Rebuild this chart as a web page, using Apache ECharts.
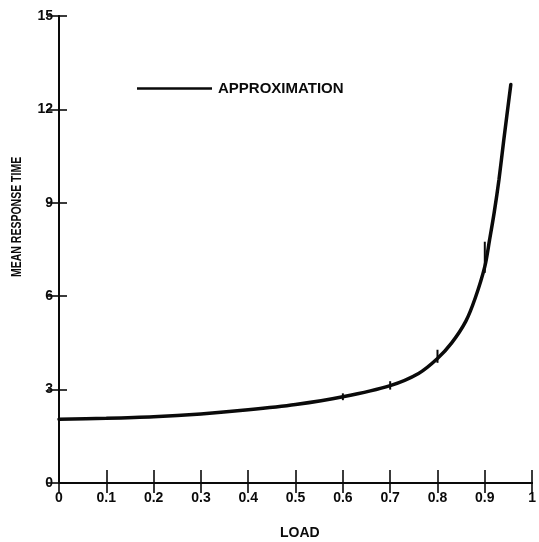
<!DOCTYPE html>
<html>
<head>
<meta charset="utf-8">
<script src="https://cdn.jsdelivr.net/npm/echarts@6/dist/echarts.min.js"></script>
<style>
  html, body { margin: 0; padding: 0; background: #fff; }
  #chart { width: 539px; height: 542px; }
</style>
</head>
<body>
<div id="chart"></div>
<script>
// Mean response time of the approximation as load grows
const loads = [0, 0.1, 0.2, 0.3, 0.4, 0.5, 0.6, 0.7, 0.76, 0.8, 0.83, 0.86, 0.88, 0.9, 0.91, 0.92, 0.93, 0.94, 0.955];
const times = [2.05, 2.08, 2.13, 2.22, 2.35, 2.52, 2.77, 3.13, 3.52, 4.0, 4.5, 5.2, 5.95, 6.95, 7.8, 8.7, 9.75, 11.0, 12.8];

// Short vertical interval marks along the curve
const barLoads = [0.6, 0.7, 0.8, 0.9];
const barLow = [2.66, 3.0, 3.86, 6.75];
const barHigh = [2.88, 3.27, 4.28, 7.75];

const xTicks = { min: 0, max: 1, interval: 0.1 };
const yTicks = { min: 0, max: 15, interval: 3 };

const seriesName = 'APPROXIMATION';
const xTitle = 'LOAD';
const yTitle = 'MEAN RESPONSE TIME';

const font = '"Liberation Sans", Arial, Helvetica, sans-serif';
const ink = '#0a0a0a';

const chart = echarts.init(document.getElementById('chart'), null, { renderer: 'canvas' });

const axisLine = { show: true, lineStyle: { color: ink, width: 2 } };

chart.setOption({
  animation: false,
  backgroundColor: '#fff',
  grid: { left: 59, right: 6, top: 16, bottom: 59 },
  legend: {
    left: 132, top: 76,
    data: [seriesName],
    itemWidth: 75, itemHeight: 14,
    icon: 'path://M0,6 L75,6 L75,8.5 L0,8.5 Z',
    textStyle: { color: ink, fontFamily: font, fontWeight: 'bold', fontSize: 15, padding: [0, 0, 0, 1] }
  },
  xAxis: [
    {
      type: 'value', position: 'bottom',
      min: xTicks.min, max: xTicks.max, interval: xTicks.interval,
      axisLine: axisLine,
      axisTick: { show: true, inside: true, length: 13, lineStyle: { color: ink, width: 1.6 } },
      axisLabel: { color: ink, fontFamily: font, fontWeight: 'bold', fontSize: 14, margin: 8 },
      splitLine: { show: false }
    },
    {
      type: 'value', position: 'top',
      min: xTicks.min, max: xTicks.max, interval: xTicks.interval,
      axisLine: axisLine,
      axisTick: { show: true, inside: true, length: 10, lineStyle: { color: ink, width: 1.6 } },
      axisLabel: { show: false },
      splitLine: { show: false }
    }
  ],
  yAxis: [
    {
      type: 'value', position: 'left',
      min: yTicks.min, max: yTicks.max, interval: yTicks.interval,
      axisLine: axisLine,
      axisTick: { show: true, inside: true, length: 8, lineStyle: { color: ink, width: 1.6 } },
      axisLabel: { color: ink, fontFamily: font, fontWeight: 'bold', fontSize: 14, margin: 6 },
      splitLine: { show: false }
    },
    {
      type: 'value', position: 'right',
      min: yTicks.min, max: yTicks.max, interval: yTicks.interval,
      axisLine: axisLine,
      axisTick: { show: true, inside: true, length: 12, lineStyle: { color: ink, width: 1.6 } },
      axisLabel: { show: false },
      splitLine: { show: false }
    }
  ],
  graphic: [
    {
      type: 'text', left: 280, top: 526,
      style: { text: xTitle, fill: ink, font: 'bold 14px ' + font }
    },
    {
      // condensed vertical axis title
      type: 'text', x: 9, y: 277, rotation: Math.PI / 2, scaleX: 0.7,
      style: { text: yTitle, fill: ink, font: 'bold 15px ' + font }
    }
  ],
  series: [
    {
      name: seriesName,
      type: 'line',
      xAxisIndex: 0, yAxisIndex: 0,
      data: loads.map((x, i) => [x, times[i]]),
      smooth: 0.3,
      showSymbol: false,
      lineStyle: { color: ink, width: 3.5, cap: 'round' },
      itemStyle: { color: ink }
    },
    {
      name: 'interval',
      type: 'custom',
      xAxisIndex: 0, yAxisIndex: 0,
      data: barLoads.map((x, i) => [x, barLow[i], barHigh[i]]),
      renderItem: function (params, api) {
        const lo = api.coord([api.value(0), api.value(1)]);
        const hi = api.coord([api.value(0), api.value(2)]);
        return {
          type: 'line',
          shape: { x1: lo[0], y1: lo[1], x2: hi[0], y2: hi[1] },
          style: { stroke: ink, lineWidth: 2 }
        };
      },
      z: 3
    }
  ]
});
</script>
</body>
</html>
